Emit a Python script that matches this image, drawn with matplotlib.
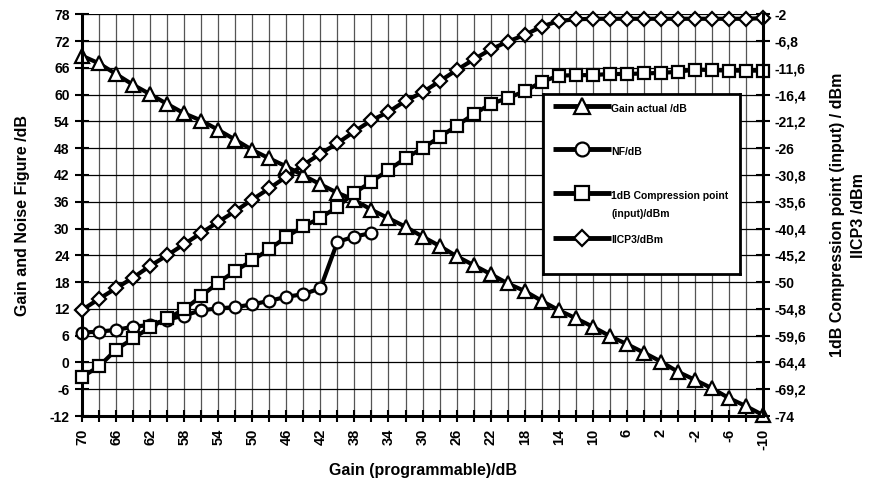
import matplotlib
matplotlib.use("Agg")
import matplotlib.pyplot as plt
import numpy as np
from matplotlib.ticker import FuncFormatter

plt.rcParams['font.family'] = ['Liberation Sans', 'DejaVu Sans']
plt.rcParams['font.weight'] = 'bold'
plt.rcParams['axes.labelweight'] = 'bold'
plt.rcParams['axes.unicode_minus'] = False

# programmed gain setting (dB)
gain_set = [70, 68, 66, 64, 62, 60, 58, 56, 54, 52, 50, 48, 46, 44, 42, 40, 38, 36, 34, 32, 30,
            28, 26, 24, 22, 20, 18, 16, 14, 12, 10, 8, 6, 4, 2, 0, -2, -4, -6, -8, -10]
gain_actual = [68.7, 67.0, 64.6, 62.2, 60.1, 57.9, 55.8, 54.2, 52.1, 49.9, 47.6, 45.7, 43.9, 41.9,
               39.9, 38.0, 36.4, 34.2, 32.3, 30.4, 28.2, 26.1, 23.8, 21.8, 19.8, 17.7, 16.0, 13.8,
               11.7, 9.9, 8.0, 5.9, 4.1, 2.2, 0.2, -2.1, -3.9, -5.8, -8.0, -9.8, -11.8]
nf_set = [70, 68, 66, 64, 62, 60, 58, 56, 54, 52, 50, 48, 46, 44, 42, 40, 38, 36]
nf = [6.7, 6.9, 7.3, 8.0, 8.4, 9.6, 10.5, 11.7, 12.1, 12.4, 13.0, 13.8, 14.7, 15.3, 16.6,
      27.0, 28.2, 29.0]
p1db = [-67.0, -65.1, -62.1, -60.1, -58.1, -56.5, -54.9, -52.5, -50.1, -48.0, -46.1, -44.1,
        -41.9, -40.0, -38.5, -36.5, -34.0, -32.0, -29.9, -27.8, -26.0, -24.0, -22.0, -19.9,
        -18.1, -17.0, -15.8, -14.1, -13.0, -12.9, -12.9, -12.7, -12.7, -12.6, -12.5, -12.3,
        -11.9, -12.0, -12.1, -12.1, -12.1]
iicp3 = [-55.0, -53.0, -51.1, -49.2, -47.1, -45.2, -43.2, -41.2, -39.2, -37.3, -35.2, -33.2,
         -31.1, -29.0, -27.0, -25.1, -23.0, -21.0, -19.5, -17.5, -16.0, -14.0, -12.0, -10.1,
         -8.3, -6.9, -5.7, -4.2, -3.2, -2.9, -2.8, -2.8, -2.8, -2.8, -2.8, -2.8, -2.8, -2.8,
         -2.8, -2.8, -2.7]
labels = ["Gain actual /dB", "NF/dB", "1dB Compression point\n(input)/dBm", "IICP3/dBm"]

fig = plt.figure(figsize=(8.69, 4.83), dpi=100)
ax = fig.add_axes([0.0944, 0.1387, 0.7837, 0.8317])

kw = dict(color='black', lw=3, mfc='white', mec='black', mew=1.6, clip_on=False)
ax.plot(gain_set, gain_actual, marker='^', ms=10, **kw)
ax.plot(nf_set, nf, marker='o', ms=8.5, **kw)

ax.set_xlim(70, -10)
ax.set_ylim(-12, 78)
ax.set_xticks(np.arange(70, -11, -4))
ax.set_xticks(np.arange(70, -11, -2), minor=True)
ax.set_yticks(np.arange(-12, 79, 6))
ax.tick_params(axis='x', which='both', direction='inout', length=8, width=1.5, labelsize=10.5,
               labelrotation=90, pad=5)
ax.tick_params(axis='y', direction='inout', length=10, width=1.5, labelsize=10, pad=4)
ax.grid(axis='x', which='both', color='#555555', lw=0.9)
ax.grid(axis='y', which='major', color='black', lw=0.9)
ax.set_axisbelow(True)
ax.spines['top'].set_visible(False)
ax.spines['right'].set_visible(False)
ax.spines['left'].set_linewidth(2.2)
ax.spines['bottom'].set_linewidth(2.2)

ax.set_xlabel("Gain (programmable)/dB", fontsize=11.5)
ax.xaxis.set_label_coords(0.5, -0.118)
ax.set_ylabel("Gain and Noise Figure /dB", fontsize=11.5)
ax.yaxis.set_label_coords(-0.077, 0.5)

ax2 = ax.twinx()
ax2.plot(gain_set, p1db, marker='s', ms=9, **kw)
ax2.plot(gain_set, iicp3, marker='D', ms=7.5, **kw)
ax2.set_ylim(-74, -2)
ax2.set_yticks(np.linspace(-74, -2, 16))
ax2.yaxis.set_major_formatter(FuncFormatter(lambda v, p: f"{round(v, 1):g}".replace('.', ',')))
ax2.tick_params(axis='y', direction='inout', length=10, width=1.5, labelsize=10, pad=3)
for s in ['top', 'left', 'bottom']:
    ax2.spines[s].set_visible(False)
ax2.spines['right'].set_linewidth(2.2)
ax2.set_ylabel("1dB Compression point (input) / dBm\nIICP3 /dBm", fontsize=11.5,
               linespacing=1.5)
ax2.yaxis.set_label_coords(1.098, 0.5)

# legend box drawn by hand so the handle sits on the first text line
leg = fig.add_axes([0.6243, 0.4327, 0.2267, 0.3727])
leg.set_xlim(0, 1)
leg.set_ylim(0, 1)
leg.set_xticks([])
leg.set_yticks([])
for sp in leg.spines.values():
    sp.set_linewidth(2)
rows = [0.935, 0.694, 0.448, 0.202]
marks = [('^', 11), ('o', 10), ('s', 10), ('D', 8)]
for y, (m, size), lab in zip(rows, marks, labels):
    leg.plot([0.052, 0.346], [y, y], color='black', lw=3.5, solid_capstyle='butt')
    leg.plot([0.199], [y], marker=m, ms=size, mfc='white', mec='black', mew=1.6, color='black')
    leg.text(0.348, y + 0.012, lab, fontsize=7.5, va='top', ha='left', linespacing=2.0)

fig.savefig("out.png", dpi=100)
